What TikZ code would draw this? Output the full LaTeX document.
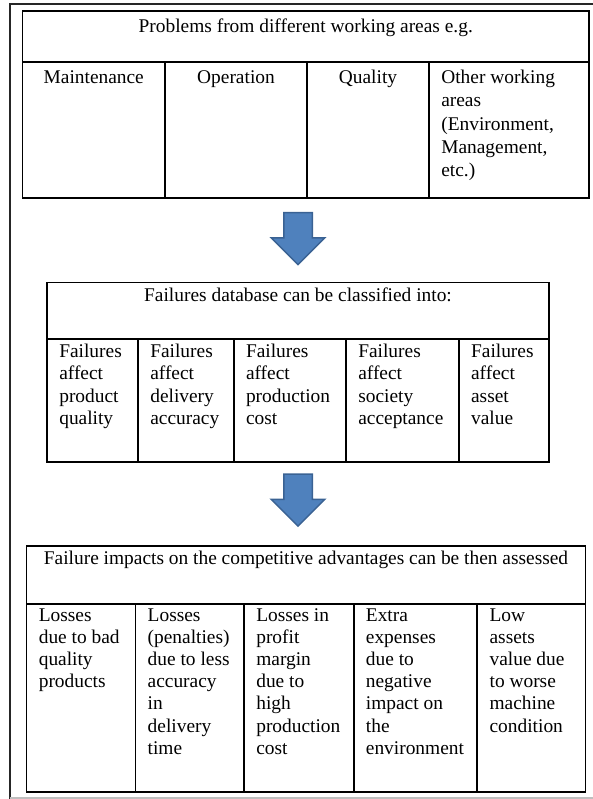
\documentclass[tikz,border=0pt]{standalone}
\usepackage{fontspec}
\setmainfont{Liberation Serif}
\usepackage{tikz}
\usetikzlibrary{shapes.arrows, positioning, fit}
\definecolor{arrowblue}{HTML}{4F81BD}
\definecolor{arrowedge}{HTML}{3A6293}
\tikzstyle{cell} = [draw, line width=1.8pt, inner sep=0pt]
\tikzstyle{txt} = [inner sep=0pt, align=left,
    font=\fontsize{19.4}{22.2}\selectfont]
\tikzstyle{head} = [txt, align=center]
\tikzstyle{down} = [single arrow, rotate=-90, fill=arrowblue,
    draw=arrowedge, line width=1.5pt, single arrow head extend=12.5pt,
    single arrow head indent=0pt, inner xsep=0pt, inner ysep=13.5pt,
    minimum height=52pt]

\begin{document}
\begin{tikzpicture}[x=1pt, y=-1pt, node distance=6pt]
    \useasboundingbox (0,0) rectangle (593,799);
    % page frame
    \draw [line width=2pt, black!85] (593,4.5) -- (9.5,4.5) -- (9.5,799);
    \draw [line width=1.5pt, black!25] (9.5,798) -- (593,798);

    % problems
    \node [cell, fit={(22.5,11) (589,62)}] (prob) {};
    \node [cell, fit={(22.5,62) (165,198)}] (maint) {};
    \node [cell, fit={(165,62) (307,198)}] (oper) {};
    \node [cell, fit={(307,62) (429,198)}] (qual) {};
    \node [cell, fit={(429,62) (589,198)}] (other) {};
    \node [head, below=9pt of prob.north] (probtxt) {Problems from different working areas e.g.};
    \node [txt, below=9pt of maint.north] (mainttxt) {Maintenance};
    \node [txt, below=9pt of oper.north] (opertxt) {Operation};
    \node [txt, below=9pt of qual.north] (qualtxt) {Quality};
    \node [txt, below right=9pt and 13pt of other.north west, font=\fontsize{19.4}{23.2}\selectfont] (othertxt)
        {Other working\\areas\\(Environment,\\Management,\\etc.)};

    \node [down] (arr1) at (298,231.5) {};

    % failures database
    \node [cell, fit={(47,282.5) (549,339)}] (fdb) {};
    \node [cell, fit={(47,339) (138,462)}] (fqual) {};
    \node [cell, fit={(138,339) (233.7,462)}] (fdel) {};
    \node [cell, fit={(233.7,339) (346,462)}] (fcost) {};
    \node [cell, fit={(346,339) (458.8,462)}] (fsoc) {};
    \node [cell, fit={(458.8,339) (549,462)}] (fasset) {};
    \node [head, below=6.5pt of fdb.north] (fdbtxt) {Failures database can be classified into:};
    \node [txt, below right=6pt and 13pt of fqual.north west] (fqualtxt) {Failures\\affect\\product\\quality};
    \node [txt, below right=6pt and 13pt of fdel.north west] (fdeltxt) {Failures\\affect\\delivery\\accuracy};
    \node [txt, below right=6pt and 13pt of fcost.north west] (fcosttxt) {Failures\\affect\\production\\cost};
    \node [txt, below right=6pt and 13pt of fsoc.north west] (fsoctxt) {Failures\\affect\\society\\acceptance};
    \node [txt, below right=6pt and 13pt of fasset.north west] (fassettxt) {Failures\\affect\\asset\\value};

    \node [down] (arr2) at (298,493) {};

    % competitive advantages
    \node [cell, fit={(26.5,546) (585.5,604)}] (impact) {};
    \node [cell, fit={(26.5,604) (135.4,792)}] (lqual) {};
    \node [cell, fit={(135.4,604) (244,792)}] (ldel) {};
    \node [cell, fit={(244,604) (353.6,792)}] (lcost) {};
    \node [cell, fit={(353.6,604) (477.3,792)}] (lenv) {};
    \node [cell, fit={(477.3,604) (585.5,792)}] (lasset) {};
    \node [head, below=6pt of impact.north] (impacttxt) {Failure impacts on the competitive advantages can be then assessed};
    \node [txt, below right=5pt and 13pt of lqual.north west] (lqualtxt) {Losses\\due to bad\\quality\\products};
    \node [txt, below right=5pt and 13pt of ldel.north west] (ldeltxt) {Losses\\(penalties)\\due to less\\accuracy\\in\\delivery\\time};
    \node [txt, below right=5pt and 13pt of lcost.north west] (lcosttxt) {Losses in\\profit\\margin\\due to\\high\\production\\cost};
    \node [txt, below right=5pt and 13pt of lenv.north west] (lenvtxt) {Extra\\expenses\\due to\\negative\\impact on\\the\\environment};
    \node [txt, below right=5pt and 13pt of lasset.north west] (lassettxt) {Low\\assets\\value due\\to worse\\machine\\condition};
\end{tikzpicture}
\end{document}
